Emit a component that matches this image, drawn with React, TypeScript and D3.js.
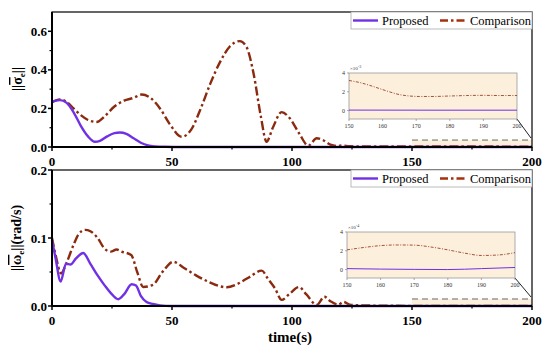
import React from "react";
import * as d3 from "d3";

// top panel: attitude error norm
const sigmaPropT = [0, 1.5, 3.3, 6, 9, 12, 15, 17.9, 20, 23, 26, 28.3, 31, 34, 37, 40, 43, 47, 55, 70, 100, 150, 200];
const sigmaPropV = [0.232, 0.24, 0.243, 0.23, 0.18, 0.11, 0.055, 0.027, 0.032, 0.055, 0.072, 0.075, 0.068, 0.045, 0.022, 0.008, 0.003, 0.001, 0, 0, 0, 0, 0];
const sigmaCompT = [0, 3.3, 6, 9, 12, 15, 18.6, 22, 26, 30, 34, 37.4, 41, 45, 49, 54, 58, 62, 66, 70, 74, 78.3, 81, 84, 87, 89.4, 92, 95.7, 99, 103, 106.8, 110.3, 113, 116, 119, 121, 124, 130, 150, 200];
const sigmaCompV = [0.232, 0.247, 0.235, 0.2, 0.165, 0.14, 0.13, 0.16, 0.21, 0.24, 0.255, 0.272, 0.255, 0.2, 0.12, 0.053, 0.09, 0.2, 0.33, 0.44, 0.52, 0.549, 0.52, 0.38, 0.16, 0.027, 0.1, 0.181, 0.15, 0.07, 0.007, 0.045, 0.035, 0.012, 0.005, 0.008, 0.004, 0.003, 0.0032, 0.0016];
// top inset (x1e-3)
const sigmaInsetCompT = [150, 153, 156, 159, 162, 165, 168, 171, 175, 180, 185, 190, 195, 200];
const sigmaInsetCompV = [3.2, 3.0, 2.7, 2.35, 2.0, 1.7, 1.55, 1.5, 1.5, 1.55, 1.6, 1.62, 1.6, 1.6];
const sigmaInsetPropT = [150, 175, 200];
const sigmaInsetPropV = [0.05, 0.04, 0.04];

// bottom panel: angular velocity error norm
const omegaPropT = [0, 1.5, 3.6, 5.8, 7.7, 10, 13, 16, 19, 22, 25, 27.6, 30, 33.2, 35, 37, 39.4, 42, 45, 50, 60, 200];
const omegaPropV = [0.097, 0.07, 0.036, 0.062, 0.061, 0.07, 0.078, 0.062, 0.045, 0.03, 0.017, 0.01, 0.017, 0.032, 0.03, 0.015, 0.006, 0.003, 0.001, 0, 0, 0];
const omegaCompT = [0, 1.5, 3.8, 6, 9, 11, 13.75, 16, 19, 22, 24.5, 26.9, 29, 33, 35.5, 38, 42, 46, 50.5, 55, 60, 65, 70, 72.8, 77, 82, 87.4, 90, 92.9, 95.7, 99, 102.9, 106, 110.3, 113.5, 116, 119.3, 121.5, 124, 130, 150, 200];
const omegaCompV = [0.1, 0.075, 0.048, 0.063, 0.09, 0.105, 0.112, 0.11, 0.1, 0.084, 0.08, 0.083, 0.08, 0.075, 0.05, 0.028, 0.031, 0.05, 0.065, 0.056, 0.045, 0.036, 0.029, 0.0275, 0.032, 0.042, 0.052, 0.04, 0.026, 0.009, 0.018, 0.028, 0.017, 0.0015, 0.0137, 0.007, 0.002, 0.006, 0.002, 0.0008, 0.0002, 0.0002];
// bottom inset (x1e-4)
const omegaInsetCompT = [150, 155, 160, 165, 170, 175, 180, 185, 190, 195, 200];
const omegaInsetCompV = [2.1, 2.35, 2.55, 2.62, 2.6, 2.4, 2.1, 1.75, 1.5, 1.55, 1.8];
const omegaInsetPropT = [150, 160, 170, 180, 190, 200];
const omegaInsetPropV = [0.1, 0.05, 0.02, 0.0, 0.1, 0.22];

const xTicks = [0, 50, 100, 150, 200];
const xMinor = [25, 75, 125, 175];
const insetXTicks = [150, 160, 170, 180, 190, 200];
const insetYTicks = [0, 2, 4];
const seriesNames = ["Proposed", "Comparison"];

const PURPLE = "#7030E6";
const BROWN = "#8B2A0E";
const PEACH = "#FCEFDC";
const FONT = "'Liberation Serif', 'Times New Roman', serif";

const zip = (t: number[], v: number[]) => t.map((x, i) => [x, v[i]] as [number, number]);

type PanelProps = {
  top: number;
  bottom: number;
  yMax: number;
  yTicks: number[];
  yMinor: number[];
  yFmt: (d: number) => string;
  prop: [number, number][];
  comp: [number, number][];
  insetProp: [number, number][];
  insetComp: [number, number][];
  inset: { x0: number; x1: number; y0: number; y1: number; exp: string };
  boxTop: number;
  label: React.ReactNode;
};

function Panel(p: PanelProps) {
  const left = 52, right = 532;
  const x = d3.scaleLinear().domain([0, 200]).range([left, right]);
  const y = d3.scaleLinear().domain([0, p.yMax]).range([p.bottom, p.top]);
  const line = d3.line<[number, number]>().x((d) => x(d[0])).y((d) => y(d[1])).curve(d3.curveMonotoneX);

  const ix = d3.scaleLinear().domain([150, 200]).range([p.inset.x0, p.inset.x1]);
  const iy = d3.scaleLinear().domain([-0.9, 4]).range([p.inset.y1, p.inset.y0]);
  const iline = d3.line<[number, number]>().x((d) => ix(d[0])).y((d) => iy(d[1])).curve(d3.curveMonotoneX);

  const legY = p.top;
  return (
    <g fontFamily={FONT}>
      {/* zoom box */}
      <rect x={x(150)} y={y(p.boxTop)} width={x(200) - x(150)} height={y(0) - y(p.boxTop)} fill={PEACH} />
      <path d={line(p.comp) || ""} fill="none" stroke={BROWN} strokeWidth={2.4} strokeDasharray="9,3,2.5,3" />
      <path d={line(p.prop) || ""} fill="none" stroke={PURPLE} strokeWidth={2.4} />
      <line x1={x(150)} x2={x(200)} y1={y(p.boxTop)} y2={y(p.boxTop)} stroke="#666" strokeWidth={1} strokeDasharray="6,4" />
      <line x1={p.inset.x1} y1={p.inset.y1} x2={x(200) - 1} y2={y(p.boxTop) - 2} stroke="#222" strokeWidth={1} />

      {/* inset */}
      <rect x={p.inset.x0} y={p.inset.y0} width={p.inset.x1 - p.inset.x0} height={p.inset.y1 - p.inset.y0} fill={PEACH} stroke="#999" strokeWidth={0.8} />
      <path d={iline(p.insetComp) || ""} fill="none" stroke={BROWN} strokeWidth={0.8} strokeDasharray="3,1.5,1,1.5" />
      <path d={iline(p.insetProp) || ""} fill="none" stroke={PURPLE} strokeWidth={1} />
      {insetXTicks.map((t) => (
        <g key={t}>
          <line x1={ix(t)} x2={ix(t)} y1={p.inset.y1} y2={p.inset.y1 + 2} stroke="#777" strokeWidth={0.6} />
          <text x={ix(t)} y={p.inset.y1 + 9} fontSize={6} textAnchor="middle" fill="#333">{t}</text>
        </g>
      ))}
      {insetYTicks.map((t) => (
        <g key={t}>
          <line x1={p.inset.x0 - 2} x2={p.inset.x0} y1={iy(t)} y2={iy(t)} stroke="#777" strokeWidth={0.6} />
          <text x={p.inset.x0 - 4} y={iy(t) + 2} fontSize={6} textAnchor="end" fill="#333">{t}</text>
        </g>
      ))}
      <text x={p.inset.x0 + 1} y={p.inset.y0 - 3} fontSize={5} fill="#333">
        ×10<tspan dy={-2} fontSize={4}>{p.inset.exp}</tspan>
      </text>

      {/* frame */}
      <rect x={left} y={p.top} width={right - left} height={p.bottom - p.top} fill="none" stroke="#000" strokeWidth={1.2} />
      <line x1={left} x2={right} y1={p.bottom} y2={p.bottom} stroke="#000" strokeWidth={2} />
      <line x1={left} x2={left} y1={p.top} y2={p.bottom} stroke="#000" strokeWidth={2} />

      {xTicks.map((t) => (
        <g key={t}>
          <line x1={x(t)} x2={x(t)} y1={p.bottom} y2={p.bottom + 4} stroke="#000" strokeWidth={1.5} />
          <text x={x(t)} y={p.bottom + 19} fontSize={13} fontWeight="bold" textAnchor="middle">{t}</text>
        </g>
      ))}
      {xMinor.map((t) => (
        <line key={t} x1={x(t)} x2={x(t)} y1={p.bottom} y2={p.bottom + 2.5} stroke="#000" strokeWidth={1.2} />
      ))}
      {p.yTicks.map((t) => (
        <g key={t}>
          <line x1={left - 4} x2={left} y1={y(t)} y2={y(t)} stroke="#000" strokeWidth={1.5} />
          <text x={left - 5} y={y(t) + 4.5} fontSize={13} fontWeight="bold" textAnchor="end">{p.yFmt(t)}</text>
        </g>
      ))}
      {p.yMinor.map((t) => (
        <line key={t} x1={left - 2.5} x2={left} y1={y(t)} y2={y(t)} stroke="#000" strokeWidth={1.2} />
      ))}

      {/* legend */}
      <rect x={351} y={legY} width={right - 351} height={17} fill="#fff" stroke="#aaa" strokeWidth={0.8} />
      <line x1={353} x2={378} y1={legY + 8.5} y2={legY + 8.5} stroke={PURPLE} strokeWidth={2.4} />
      <text x={382} y={legY + 13} fontSize={12.5}>{seriesNames[0]}</text>
      <line x1={440} x2={466} y1={legY + 8.5} y2={legY + 8.5} stroke="#A8300E" strokeWidth={2.4} strokeDasharray="8,3,2.5,3" />
      <text x={470} y={legY + 13} fontSize={12.5}>{seriesNames[1]}</text>

      {p.label}
    </g>
  );
}

export default function App() {
  return (
    <svg width={550} height={348} style={{ position: "absolute", left: 0, top: 0, background: "#fff" }}>
      <Panel
        top={12}
        bottom={147}
        yMax={0.7}
        yTicks={[0, 0.2, 0.4, 0.6]}
        yMinor={[0.1, 0.3, 0.5]}
        yFmt={d3.format(".1f")}
        prop={zip(sigmaPropT, sigmaPropV)}
        comp={zip(sigmaCompT, sigmaCompV)}
        insetProp={zip(sigmaInsetPropT, sigmaInsetPropV)}
        insetComp={zip(sigmaInsetCompT, sigmaInsetCompV)}
        inset={{ x0: 349, x1: 517, y0: 73, y1: 119, exp: "-3" }}
        boxTop={0.036}
        label={
          <text transform="translate(22,79) rotate(-90)" fontSize={14} fontWeight="bold" textAnchor="middle">
            ||<tspan textDecoration="overline">σ</tspan><tspan dy={3} fontSize={9}>e</tspan><tspan dy={-3}>||</tspan>
          </text>
        }
      />
      <Panel
        top={170}
        bottom={306}
        yMax={0.2}
        yTicks={[0, 0.1, 0.2]}
        yMinor={[0.05, 0.15]}
        yFmt={d3.format(".1f")}
        prop={zip(omegaPropT, omegaPropV)}
        comp={zip(omegaCompT, omegaCompV)}
        insetProp={zip(omegaInsetPropT, omegaInsetPropV)}
        insetComp={zip(omegaInsetCompT, omegaInsetCompV)}
        inset={{ x0: 347, x1: 515, y0: 232, y1: 278, exp: "-4" }}
        boxTop={0.0103}
        label={
          <text transform="translate(21,238) rotate(-90)" fontSize={14} fontWeight="bold" textAnchor="middle">
            ||<tspan textDecoration="overline">ω</tspan><tspan dy={3} fontSize={9}>e</tspan><tspan dy={-3}>||(rad/s)</tspan>
          </text>
        }
      />
      <text x={290} y={342} fontFamily={FONT} fontSize={15} fontWeight="bold" textAnchor="middle">time(s)</text>
    </svg>
  );
}
